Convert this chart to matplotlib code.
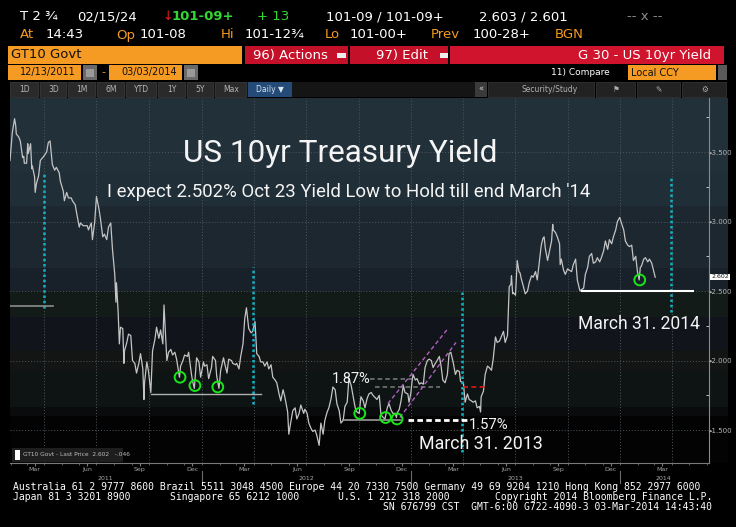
import matplotlib
matplotlib.use('Agg')
import matplotlib.pyplot as plt
from matplotlib.font_manager import FontProperties
from matplotlib.patches import Rectangle
from matplotlib.transforms import blended_transform_factory
from matplotlib.ticker import FixedLocator, FuncFormatter
import pandas as pd

# GT10 yield (about two points a week)
d2011 = ['01-31','02-03','02-04','02-08','02-10','02-11','02-15','02-18','02-22','02-24','02-25','03-01','03-03','03-04','03-08','03-10','03-11','03-15','03-16','03-18','03-22','03-25','03-31','04-05','04-08','04-11','04-15','04-19','04-22','04-27','04-29','05-04','05-06','05-10','05-13','05-18','05-20','05-25','05-27','06-01','06-03','06-08','06-10','06-15','06-17','06-22','06-24','06-28','07-01','07-05','07-08','07-12','07-15','07-19','07-22','07-26','07-29','08-02','08-04','08-05','08-08','08-10','08-12','08-16','08-18','08-19','08-23','08-26','08-30','09-02','09-06','09-09','09-13','09-16','09-20','09-22','09-23','09-27','09-30','10-04','10-07','10-11','10-14','10-18','10-21','10-25','10-27','10-28','11-01','11-04','11-08','11-11','11-15','11-18','11-23','11-25','11-29','12-02','12-07','12-09','12-14','12-16','12-19','12-23','12-27','12-30']
y2011 = [3.44,3.59,3.64,3.74,3.69,3.63,3.61,3.58,3.46,3.47,
         3.42,3.42,3.56,3.49,3.56,3.38,3.40,3.32,3.21,3.27,
         3.33,3.44,3.47,3.50,3.57,3.58,3.41,3.37,3.39,3.35,
         3.29,3.22,3.15,3.21,3.17,3.17,3.15,3.12,3.07,2.96,
         2.99,2.97,2.97,2.97,2.94,2.99,2.87,3.00,3.18,3.10,
         3.02,2.89,2.91,2.87,2.96,2.99,2.80,2.62,2.42,2.56,
         2.34,2.12,2.24,2.23,1.98,2.07,2.13,2.19,2.18,2.00,
         1.98,1.91,1.98,2.05,1.94,1.72,1.84,1.99,1.92,1.77,
         2.07,2.15,2.24,2.16,2.22,2.12,2.40,2.32,2.00,2.06,
         2.08,2.04,2.06,2.01,1.88,1.96,2.00,2.04,2.03,2.06,
         1.90,1.85,1.80,2.02,1.99,1.88]

d2012 = ['01-04','01-06','01-10','01-13','01-18','01-20','01-25','01-27','01-31','02-03','02-08','02-10','02-14','02-17','02-22','02-24','02-29','03-02','03-06','03-09','03-13','03-16','03-19','03-23','03-27','03-30','04-03','04-06','04-10','04-13','04-17','04-20','04-24','04-27','05-01','05-04','05-08','05-11','05-15','05-18','05-22','05-25','05-30','06-01','06-05','06-08','06-12','06-15','06-19','06-22','06-27','06-29','07-03','07-06','07-10','07-13','07-17','07-20','07-24','07-27','07-31','08-03','08-07','08-10','08-14','08-17','08-21','08-24','08-28','08-31','09-04','09-07','09-11','09-14','09-18','09-21','09-25','09-28','10-02','10-05','10-09','10-12','10-16','10-19','10-23','10-26','11-02','11-06','11-09','11-13','11-16','11-20','11-23','11-27','11-30','12-04','12-06','12-07','12-11','12-14','12-18','12-21','12-26','12-28','12-31']
y2012 = [1.99,1.96,1.97,1.87,1.95,2.03,2.00,1.89,1.80,1.93,
         2.02,1.98,1.91,2.01,2.00,1.98,1.97,1.98,1.94,2.03,
         2.12,2.30,2.38,2.23,2.20,2.21,2.28,2.05,2.03,1.99,
         1.99,1.96,1.99,1.94,1.97,1.88,1.86,1.84,1.76,1.71,
         1.79,1.74,1.63,1.47,1.57,1.64,1.66,1.58,1.62,1.68,
         1.62,1.65,1.62,1.55,1.51,1.49,1.50,1.46,1.39,1.55,
         1.47,1.57,1.63,1.66,1.73,1.81,1.79,1.69,1.64,1.55,
         1.57,1.67,1.70,1.87,1.82,1.75,1.66,1.63,1.62,1.74,
         1.71,1.66,1.73,1.76,1.77,1.75,1.72,1.75,1.61,1.59,
         1.58,1.66,1.69,1.64,1.62,1.62,1.59,1.62,1.65,1.71,
         1.82,1.77,1.76,1.70,1.76]

d2013 = ['01-02','01-04','01-08','01-11','01-15','01-18','01-22','01-25','01-29','02-01','02-05','02-08','02-12','02-15','02-19','02-22','02-25','03-01','03-05','03-08','03-11','03-15','03-19','03-22','03-26','03-28','04-02','04-05','04-09','04-12','04-16','04-19','04-23','04-26','04-30','05-02','05-03','05-07','05-10','05-14','05-17','05-21','05-24','05-28','05-31','06-04','06-07','06-11','06-14','06-18','06-20','06-21','06-24','06-25','06-27','06-28','07-02','07-05','07-08','07-10','07-12','07-16','07-19','07-23','07-26','07-30','08-02','08-06','08-09','08-13','08-16','08-19','08-21','08-23','08-27','08-30','09-03','09-05','09-06','09-10','09-13','09-17','09-18','09-20','09-24','09-27','10-01','10-04','10-08','10-11','10-15','10-18','10-22','10-23','10-25','10-29','11-01','11-05','11-08','11-12','11-15','11-19','11-22','11-26','11-29','12-03','12-06','12-10','12-13','12-17','12-20','12-24','12-27','12-31']
y2013 = [1.84,1.90,1.86,1.87,1.83,1.84,1.83,1.95,2.00,2.01,
         2.00,1.95,1.98,2.00,2.03,1.96,1.86,1.84,1.90,2.05,
         2.06,1.99,1.90,1.93,1.92,1.85,1.84,1.70,1.76,1.72,
         1.71,1.70,1.71,1.66,1.67,1.63,1.74,1.78,1.90,1.96,
         1.95,1.93,2.01,2.17,2.13,2.14,2.17,2.21,2.13,2.18,
         2.42,2.53,2.55,2.61,2.48,2.49,2.47,2.72,2.64,2.63,
         2.59,2.53,2.48,2.50,2.56,2.61,2.60,2.64,2.58,2.72,
         2.83,2.88,2.89,2.81,2.72,2.78,2.86,2.98,2.94,2.92,
         2.89,2.84,2.69,2.73,2.65,2.62,2.66,2.65,2.64,2.69,
         2.73,2.58,2.51,2.50,2.51,2.52,2.62,2.67,2.75,2.77,
         2.70,2.71,2.74,2.71,2.74,2.79,2.86,2.80,2.87,2.84,
         2.89,2.94,3.00,3.03]

d2014 = ['01-03','01-07','01-10','01-14','01-17','01-21','01-24','01-28','01-31','02-03','02-05','02-07','02-11','02-14','02-18','02-21','02-25','02-28','03-03']
y2014 = [2.99,2.94,2.86,2.83,2.82,2.83,2.72,2.75,2.64,2.58,2.67,2.68,2.73,2.74,2.71,2.73,2.70,2.65,2.60]

# annotations drawn on the chart
march31 = ['2011-03-31', '2012-03-31', '2013-03-31', '2014-03-31']
march31_span = [(2.38, 3.35), (1.69, 2.67), (1.34, 2.49), (2.35, 3.32)]
green_dates = ['2011-11-24', '2011-12-20', '2012-01-29', '2012-10-03', '2012-11-17', '2012-12-07', '2014-02-04']
green_vals = [1.88, 1.82, 1.81, 1.62, 1.59, 1.58, 2.58]
month_names = ['Mar', 'Jun', 'Sep', 'Dec']
years = [2011, 2012, 2013, 2014]

dates = pd.to_datetime([f'2011-{d}' for d in d2011] + [f'2012-{d}' for d in d2012] +
                       [f'2013-{d}' for d in d2013] + [f'2014-{d}' for d in d2014])
ylds = y2011 + y2012 + y2013 + y2014
assert len(dates) == len(ylds)

W, H = 736, 527
fig = plt.figure(figsize=(W / 100, H / 100), dpi=100, facecolor='black')
renderer = fig.canvas.get_renderer()
# narrowest clean face available for the hand-written annotations
NARROW = FontProperties(family=['Roboto', 'Liberation Sans', 'DejaVu Sans'])


def fx(px):
    return px / W

def fy(py):
    return 1 - py / H

def box(x0, y0, x1, y1, color, z=1, **kw):
    fig.patches.append(Rectangle((fx(x0), fy(y1)), (x1 - x0) / W, (y1 - y0) / H,
                                 transform=fig.transFigure, figure=fig, facecolor=color,
                                 zorder=z, **kw))

def txt(x, y, s, color='white', size=9, ha='left', weight='normal', family='DejaVu Sans'):
    return fig.text(fx(x), fy(y), s, color=color, fontsize=size, ha=ha, va='center',
                    fontweight=weight, family=family)

def fit_text(x0, x1, ybase, s, color='#f4f4f4'):
    # annotation text sized so it spans x0..x1 like in the screenshot
    t = fig.text(fx(x0), fy(ybase), s, color=color, fontproperties=NARROW, va='baseline')
    t.set_fontsize(20)
    w = t.get_window_extent(renderer).width
    t.set_fontsize(20 * (x1 - x0) / w)
    return t


ORANGE = '#f59a23'

# ---- header rows
txt(20, 17, 'T 2 ¾', size=9.5)
txt(77, 17, '02/15/24', size=9.5)
txt(162, 17, '↓', color='#e02020', size=9)
txt(172, 17, '101-09+', color='#33d633', size=9.5, weight='bold')
txt(257, 17, '+ 13', color='#33d633', size=9.5)
txt(326, 17, '101-09 / 101-09+', size=9.5)
txt(479, 17, '2.603 / 2.601', size=9.5)
txt(627, 17, '-- x --', color='#8a8a8a', size=9.5)

for s, x, c in [('At', 20, ORANGE), ('14:43', 46, 'white'), ('Op', 116, ORANGE), ('101-08', 140, 'white'),
                ('Hi', 221, ORANGE), ('101-12¾', 245, 'white'), ('Lo', 325, ORANGE), ('101-00+', 350, 'white'),
                ('Prev', 431, ORANGE), ('100-28+', 473, 'white'), ('BGN', 555, ORANGE)]:
    txt(x, 35, s, color=c, size=9.5)

box(8, 46, 242, 64, ORANGE)
txt(11, 55, 'GT10 Govt', color='#111111', size=9.5)
box(245, 46, 348, 64, '#c5102a')
txt(253, 55, '96) Actions', size=9.5)
box(337, 53, 346, 58, '#eeeeee', z=2)
box(350, 46, 448, 64, '#c5102a')
txt(376, 55, '97) Edit', size=9.5)
box(440, 53, 448, 58, '#eeeeee', z=2)
box(450, 46, 724, 64, '#d0142e')
txt(711, 55, 'G 30 - US 10yr Yield', size=9.5, ha='right')

box(8, 65, 81, 80, ORANGE)
txt(20, 72.5, '12/13/2011', color='#111111', size=7)
box(83, 65, 97, 80, '#6a6a6a')
box(86, 69, 94, 77, '#9a9a9a', z=2)
txt(101, 72.5, '-', color=ORANGE, size=8)
box(109, 65, 182, 80, ORANGE)
txt(121, 72.5, '03/03/2014', color='#111111', size=7)
box(184, 65, 198, 80, '#6a6a6a')
box(187, 69, 195, 77, '#9a9a9a', z=2)
txt(551, 72.5, '11) Compare', size=6.5)
box(628, 65, 716, 80, ORANGE)
txt(631, 72.5, 'Local CCY', color='#111111', size=7)
box(718, 65, 727, 80, '#5a5a5a')

box(10, 82, 478, 97, '#151515')
buttons = [('1D', 10, 39), ('3D', 40, 67), ('1M', 68, 96), ('6M', 97, 125), ('YTD', 126, 157),
           ('1Y', 158, 186), ('5Y', 187, 214), ('Max', 215, 247)]
for lab, x0, x1 in buttons:
    box(x0, 82, x1 - 1, 97, '#2a2a2a', edgecolor='#3c3c3c', linewidth=0.5)
    txt((x0 + x1) / 2, 89.5, lab, color='#b5b5b5', size=5.5, ha='center')
box(248, 82, 292, 97, '#244a78')
txt(270, 89.5, 'Daily ▼', color='#d8e4f0', size=5.5, ha='center')
box(475, 82, 487, 97, '#3a3a3a')
txt(481, 89.5, '«', color='#d0d0d0', size=6, ha='center')
for x0, x1, lab in [(488, 595, 'Security/Study'), (596, 636, '⚑'), (637, 681, '✎'), (682, 727, '⚙')]:
    box(x0, 82, x1 - 1, 97, '#222222', edgecolor='#3a3a3a', linewidth=0.5)
    txt((x0 + x1) / 2 + (8 if lab == 'Security/Study' else 0), 89.5, lab, color='#b0b0b0', size=5.5, ha='center')

# ---- chart panel background (banded gradient)
band_edges = [98, 172, 206, 268, 291, 317, 350, 371, 407, 416, 463]
band_colors = ['#22303a', '#202e37', '#1c2730', '#182129', '#131b19', '#12141c',
               '#131414', '#0e1413', '#0a0b0c', '#030303']
for y0, y1, c in zip(band_edges[:-1], band_edges[1:], band_colors):
    box(10, y0, 728, y1, c, z=-2)

ax = fig.add_axes([fx(10), fy(463), (709 - 10) / W, (463 - 98) / H])
ax.set_facecolor('none')
ax.set_xlim(pd.Timestamp('2011-01-31'), pd.Timestamp('2014-06-05'))
ax.set_ylim(1.263, 3.889)

grid_kw = dict(color='#4e5860', lw=0.7, linestyle=(0, (1, 2)), zorder=1)
for q in pd.date_range('2011-04-01', '2014-04-01', freq='QS'):
    ax.axvline(q, **grid_kw)
for v in [1.5, 2.0, 2.5, 3.0, 3.5]:
    ax.axhline(v, **grid_kw)

ax.plot(dates, ylds, color='#c4c4c4', lw=0.9, zorder=3)

# March 31 markers
for d, (lo, hi) in zip(march31, march31_span):
    ax.plot([pd.Timestamp(d)] * 2, [lo, hi], color='#10b4c4', lw=1.8,
            linestyle=(0, (1, 1.1)), zorder=4)

T = pd.Timestamp
ax.plot([T('2011-01-31'), T('2011-04-16')], [2.39, 2.39], color='#8c8c8c', lw=1.2, zorder=4)
ax.plot([T('2011-10-04'), T('2012-04-13')], [1.76, 1.76], color='#b0b0b0', lw=1.0, zorder=4)
ax.plot([T('2012-09-03'), T('2012-12-12')], [1.57, 1.57], color='#9a9a9a', lw=1.2, zorder=4)
ax.plot([T('2012-12-26'), T('2013-04-08')], [1.57, 1.57], color='white', lw=2,
        linestyle=(0, (2, 1.2)), zorder=4)
ax.plot([T('2012-10-21'), T('2013-01-02')], [1.87, 1.87], color='#7c7c7c', lw=1.1,
        linestyle=(0, (3, 2)), zorder=4)
ax.plot([T('2012-10-29'), T('2013-02-20')], [1.81, 1.81], color='#7c7c7c', lw=1.1,
        linestyle=(0, (3, 2)), zorder=4)
ax.plot([T('2012-11-21'), T('2013-03-04')], [1.69, 2.22], color='#b060c0', lw=1,
        linestyle=(0, (3, 2)), zorder=4)
ax.plot([T('2012-12-12'), T('2013-03-20')], [1.59, 2.13], color='#b060c0', lw=1,
        linestyle=(0, (3, 2)), zorder=4)
ax.plot([T('2013-04-01'), T('2013-05-14')], [1.81, 1.81], color='#e01818', lw=1.2,
        linestyle=(0, (3, 2)), zorder=4)
ax.plot([T('2013-10-26'), T('2014-05-08')], [2.50, 2.50], color='white', lw=1.5, zorder=4)

ax.scatter(pd.to_datetime(green_dates), green_vals, s=60, facecolors='none',
           edgecolors='#19e619', linewidths=1.4, zorder=5)

# annotation texts
fit_text(183, 497, 162, 'US 10yr Treasury Yield')
fit_text(107, 589, 197, "I expect 2.502% Oct 23 Yield Low to Hold till end March '14")
fit_text(332, 371, 383, '1.87%')
fit_text(469, 509, 429, '1.57%')
fit_text(419, 542, 449, 'March 31. 2013')
fit_text(578, 700, 329, 'March 31. 2014')

# ---- axes cosmetics
for side in ['top', 'left']:
    ax.spines[side].set_visible(False)
ax.spines['right'].set_color('#8a8a8a')
ax.spines['bottom'].set_color('#7a7a7a')
ax.spines['right'].set_linewidth(0.8)
ax.spines['bottom'].set_linewidth(0.8)

ax.yaxis.tick_right()
ax.set_yticks([1.5, 2.0, 2.5, 3.0, 3.5])
ax.yaxis.set_major_formatter(FuncFormatter(lambda v, p: f'▸{v:.3f}'))
ax.yaxis.set_minor_locator(FixedLocator([1.75, 2.25, 2.75, 3.25, 3.75]))
ax.tick_params(axis='y', which='major', length=0, pad=0, labelsize=5, labelcolor='#b4b4b4')
ax.tick_params(axis='y', which='minor', length=2, direction='in', color='#dddddd')

month_ticks = [T(f'{y}-{m:02d}-15') for y in years for m in (3, 6, 9, 12)]
month_ticks = [t for t in month_ticks if t < T('2014-06-05')]
ax.set_xticks(month_ticks)
ax.set_xticklabels([month_names[(t.month // 3) - 1] for t in month_ticks])
ax.set_xticks(list(pd.date_range('2011-02-01', '2014-06-01', freq='MS')), minor=True)
ax.tick_params(axis='x', which='major', length=2, pad=1, labelsize=4.5, labelcolor='#a8a8a8', color='#7a7a7a')
ax.tick_params(axis='x', which='minor', length=1.5, color='#6a6a6a')

bt = blended_transform_factory(ax.transData, fig.transFigure)
year_mid = [T('2011-07-17'), T('2012-07-01'), T('2013-07-01'), T('2014-03-18')]
for yr, xm in zip(years, year_mid):
    ax.text(xm, fy(478), str(yr), transform=bt, ha='center', va='center',
            fontsize=4.5, color='#a8a8a8', clip_on=False)
for yr in years[1:]:
    ax.plot([T(f'{yr}-01-01')] * 2, [fy(471), fy(483)], transform=bt, color='#6a6a6a',
            lw=0.8, clip_on=False)

# last price tag and legend
fig.text(fx(711), fy(277), '2.602', fontsize=4.5, color='#111111', va='center',
         bbox=dict(boxstyle='square,pad=0.15', facecolor='white', edgecolor='none'))
box(12, 448, 123, 462, '#1e1e1e', z=2)
box(15, 450, 20, 460, 'white', z=3)
txt(23, 455, 'GT10 Govt - Last Price  2.602   -.046', color='#bcbcbc', size=4.2)

# ---- footer
MONO = 'DejaVu Sans Mono'
txt(13, 487, 'Australia 61 2 9777 8600 Brazil 5511 3048 4500 Europe 44 20 7330 7500 Germany 49 69 9204 1210 Hong Kong 852 2977 6000',
    size=7.0, family=MONO)
txt(13, 497, 'Japan 81 3 3201 8900', size=7.0, family=MONO)
txt(170, 497, 'Singapore 65 6212 1000', size=7.0, family=MONO)
txt(338, 497, 'U.S. 1 212 318 2000', size=7.0, family=MONO)
txt(712, 497, 'Copyright 2014 Bloomberg Finance L.P.', size=7.0, family=MONO, ha='right')
txt(712, 507, 'SN 676799 CST  GMT-6:00 G722-4090-3 03-Mar-2014 14:43:40', size=7.0, family=MONO, ha='right')

fig.savefig('out.png', dpi=100, facecolor='black')
